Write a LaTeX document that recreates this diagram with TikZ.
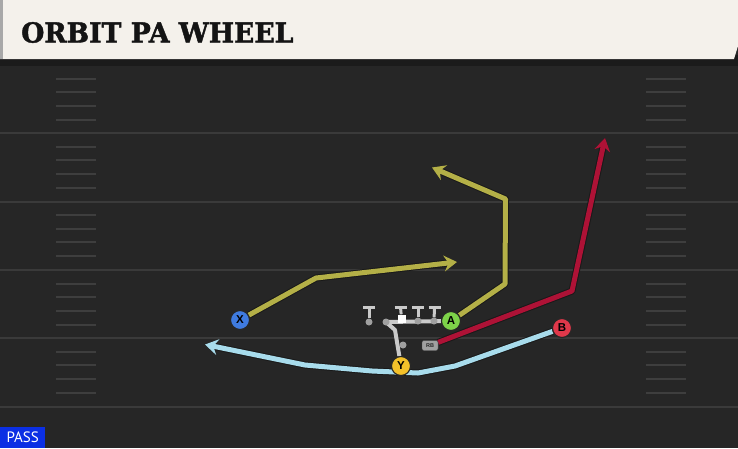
\documentclass[tikz,border=0pt]{standalone}
\usepackage{fontspec}
\setmainfont{Liberation Sans}
\newfontfamily\titlefont{DejaVu Serif}[BoldFeatures={FakeBold=1.6}]
\newfontfamily\passfont{PT Sans}
\usetikzlibrary{arrows.meta}
\definecolor{fieldbg}{HTML}{262626}
\definecolor{stripdark}{HTML}{1B1B1B}
\definecolor{headerbg}{HTML}{F4F1EB}
\definecolor{headeredge}{HTML}{A8A8A8}
\definecolor{yardcol}{HTML}{3A3A3A}
\definecolor{hashcol}{HTML}{3E3E3E}
\definecolor{olive}{HTML}{B4B047}
\definecolor{crimson}{HTML}{AE1236}
\definecolor{lightblue}{HTML}{A8DCEC}
\definecolor{xblue}{HTML}{3F7BE0}
\definecolor{agreen}{HTML}{7DD349}
\definecolor{bred}{HTML}{E0384A}
\definecolor{yyellow}{HTML}{F3C12A}
\definecolor{olgrey}{HTML}{CACACA}
\definecolor{dotgrey}{HTML}{A0A0A0}
\definecolor{passblue}{HTML}{0B2FE4}
\pgfdeclarelayer{bg}
\pgfsetlayers{bg,main}
\tikzset{
  yardline/.style={draw=yardcol, line width=2pt},
  hashmark/.style={draw=hashcol, line width=2pt},
  player/.style={circle, draw=black!85, line width=1.1pt, minimum size=19pt, inner sep=0pt,
    font=\fontsize{11.5}{11.5}\selectfont\bfseries, text=black},
  route/.style={line width=5pt, line join=round,
    preaction={draw=black!90, line width=7pt, line join=round}},
  tip/.style={-{Stealth[length=13pt,width=16pt,inset=4.5pt]}},
  oline/.style={draw=olgrey, line width=3pt},
  oldot/.style={circle, fill=dotgrey, minimum size=7pt, inner sep=0pt},
  motion/.style={draw=olgrey, line width=4pt, line join=round}
}
\begin{document}
\begin{tikzpicture}[x=1pt,y=-1pt]
\useasboundingbox (0,0) rectangle (738,448);
\begin{pgfonlayer}{bg}
\fill[fieldbg] (0,0) rectangle (738,448);
\fill[stripdark] (0,55) rectangle (738,66);
\fill[headerbg] (0,0) -- (738,0) -- (738,46) -- (734,59) -- (0,59) -- cycle;
\fill[headeredge] (0,0) rectangle (3,59);
\foreach \y in {133,201.5,270,338,406.5} \draw[yardline] (0,\y) -- (738,\y);
\foreach \b in {65,133,201.5,270,338} {
  \foreach \k in {1,2,3,4} {
    \draw[hashmark] (56,{\b+\k*13.66}) -- (96,{\b+\k*13.66});
    \draw[hashmark] (646,{\b+\k*13.66}) -- (686,{\b+\k*13.66});
  }
}
\end{pgfonlayer}

\node[anchor=base west, inner sep=0pt, text=black!92, xscale=0.97] (title) at (21,42.5)
  {\titlefont\bfseries\fontsize{27.5}{30}\selectfont ORBIT PA WHEEL};
\node[anchor=south west, fill=passblue, minimum width=45pt, minimum height=21pt, inner sep=0pt,
  text=white, font=\passfont\fontsize{15}{15}\selectfont] (pass) at (0,448) {PASS};

% offensive line
\node[oldot] (ol1) at (369,322) {};
\node[oldot] (ol2) at (386,322) {};
\node[fill=white, minimum size=8pt, inner sep=0pt] (ctr) at (401.5,318.5) {};
\node[oldot] (ol4) at (418,321) {};
\node[oldot] (ol5) at (434,321) {};
\node[oldot] (qb) at (403,345) {};
\coordinate (t1) at (369,307);
\coordinate (t2) at (400.5,307);
\coordinate (t3) at (418,307);
\coordinate (t4) at (434.5,307);
\coordinate (mc) at (395,330);

% skill players
\node[player, fill=xblue] (X) at (240,320) {X};
\node[player, fill=agreen] (A) at (451,321) {A};
\node[player, fill=bred] (B) at (562,328) {B};
\node[player, fill=yyellow] (Y) at (401,366) {Y};
\node[draw=black!70, fill=dotgrey, rounded corners=2pt, minimum width=16pt, minimum height=10pt,
  inner sep=0pt, font=\fontsize{5.5}{5.5}\selectfont\bfseries, text=black!85] (RB) at (430,345.5) {RB};

% route waypoints
\coordinate (x1) at (316,278);
\coordinate (x2) at (457,262);
\coordinate (a1) at (505,284);
\coordinate (a2) at (505.5,199);
\coordinate (a3) at (432,167.5);
\coordinate (r1) at (572,291);
\coordinate (r2) at (605,138);
\coordinate (b1) at (455,366);
\coordinate (b2) at (418,373);
\coordinate (b3) at (372,371);
\coordinate (b4) at (305,365);
\coordinate (b5) at (205,344.5);

\begin{pgfonlayer}{bg}
\draw[route, draw=lightblue, tip] (B) -- (b1) -- (b2) -- (b3) -- (b4) -- (b5);
\draw[route, draw=olive, tip] (X) -- (x1) -- (x2);
\draw[route, draw=olive, tip] (A) -- (a1) -- (a2) -- (a3);
\draw[route, draw=crimson, tip] (RB) -- (r1) -- (r2);
% blocking marks
\draw[oline] (ol1) -- (t1);
\draw[oline] ([xshift=-6pt]t1) -- ([xshift=6pt]t1);
\draw[oline] (ctr) -- (t2);
\draw[oline] ([xshift=-6pt]t2) -- ([xshift=6pt]t2);
\draw[oline] (ol4) -- (t3);
\draw[oline] ([xshift=-6pt]t3) -- ([xshift=6pt]t3);
\draw[oline] (ol5) -- (t4);
\draw[oline] ([xshift=-6pt]t4) -- ([xshift=6pt]t4);
% motion
\draw[motion] (ol2.center) -- (A);
\draw[motion] (ol2.center) -- (mc) -- (Y);
\end{pgfonlayer}
\end{tikzpicture}
\end{document}
